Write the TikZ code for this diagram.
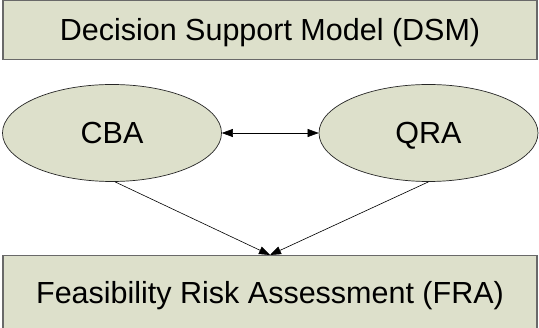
\documentclass[tikz,border=0pt]{standalone}
\usepackage{fontspec}
\setmainfont{Liberation Sans}
\usetikzlibrary{arrows.meta,shapes.geometric}
\definecolor{panel}{RGB}{221,224,203}
\definecolor{edge}{RGB}{105,105,105}
\begin{document}
\begin{tikzpicture}[x=1pt,y=-1pt,
  txt/.style={font=\fontsize{30.5}{36}\selectfont, text height=22pt, text depth=0pt, inner sep=0pt},
  panelbox/.style={rectangle, draw=edge, line width=1.5pt, fill=panel, txt},
  bubble/.style={ellipse, draw=black!85, line width=0.7pt, fill=panel, minimum width=219pt, minimum height=97pt, txt},
  link/.style={line width=0.6pt, -{Triangle[length=11pt,width=8pt]}}]
\useasboundingbox (0,0) rectangle (539,328);
\fill[white] (0,0) rectangle (539,328);

% top and bottom panels
\node[panelbox, minimum width=534pt, minimum height=59pt] (DSM) at (270,30) {Decision Support Model (DSM)};
\node[panelbox, minimum width=534pt, minimum height=74pt, anchor=north] (FRA) at (270,255) {Feasibility Risk Assessment (FRA)};

% the two analyses
\node[bubble] (CBA) at (112,133) {CBA};
\node[bubble] (QRA) at (428.5,133) {QRA};

% connectors
\draw[line width=0.6pt, {Triangle[length=11pt,width=8pt]}-{Triangle[length=11pt,width=8pt]}] (CBA) -- (QRA);
\draw[link] ([xshift=3pt]CBA.south) -- (FRA.north);
\draw[link] (QRA.south) -- (FRA.north);
\end{tikzpicture}
\end{document}
